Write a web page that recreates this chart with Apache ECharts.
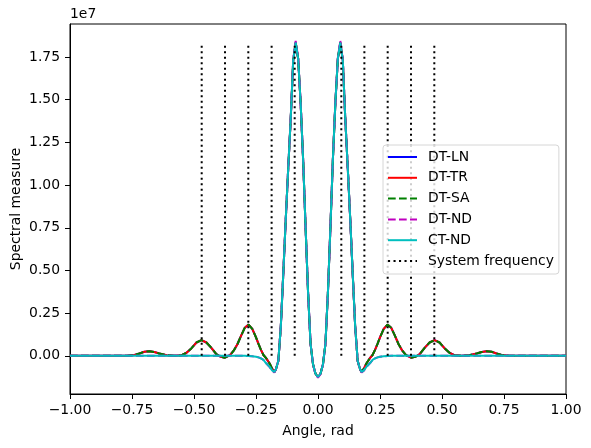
<!DOCTYPE html>
<html>
<head>
<meta charset="utf-8">
<script src="https://cdn.jsdelivr.net/npm/echarts@6/dist/echarts.min.js"></script>
<style>html,body{margin:0;padding:0;background:#fff;}#c{width:591px;height:448px;}</style>
</head>
<body>
<div id="c"></div>
<script>
// Angle grid, rad
const angles = [-1.00, -0.90, -0.80, -0.77, -0.74, -0.72, -0.70, -0.68, -0.66, -0.64, -0.61, -0.58, -0.55, -0.53, -0.51, -0.49, -0.47, -0.45, -0.43, -0.41, -0.395, -0.375, -0.355, -0.34, -0.325, -0.31, -0.295, -0.28, -0.265, -0.25, -0.24, -0.23, -0.22, -0.21, -0.195, -0.185, -0.176, -0.17, -0.16, -0.15, -0.14, -0.13, -0.12, -0.11, -0.10, -0.09, -0.08, -0.07, -0.06, -0.05, -0.04, -0.03, -0.02, -0.01,
  0,
  0.01, 0.02, 0.03, 0.04, 0.05, 0.06, 0.07, 0.08, 0.09, 0.10, 0.11, 0.12, 0.13, 0.14, 0.15, 0.16, 0.17, 0.176, 0.185, 0.195, 0.21, 0.22, 0.23, 0.24, 0.25, 0.265, 0.28, 0.295, 0.31, 0.325, 0.34, 0.355, 0.375, 0.395, 0.41, 0.43, 0.45, 0.47, 0.49, 0.51, 0.53, 0.55, 0.58, 0.61, 0.64, 0.66, 0.68, 0.70, 0.72, 0.74, 0.77, 0.80, 0.90, 1.00];

// Spectral measure (units of 1e7)
const dtTR = [0, 0, 0, 0.001, 0.005, 0.014, 0.024, 0.027, 0.022, 0.014, 0.004, 0, 0.004, 0.018, 0.045, 0.078, 0.092, 0.078, 0.047, 0.01, -0.004, -0.011, 0.004, 0.03, 0.068, 0.118, 0.165, 0.183, 0.158, 0.108, 0.07, 0.035, 0.005, -0.012, -0.045, -0.075, -0.094, -0.08, -0.03, 0.17, 0.48, 0.80, 1.10, 1.39, 1.73, 1.835, 1.74, 1.48, 1.15, 0.75, 0.37, 0.07, -0.05, -0.105,
  -0.124,
  -0.105, -0.05, 0.07, 0.37, 0.75, 1.15, 1.48, 1.74, 1.835, 1.73, 1.39, 1.10, 0.80, 0.48, 0.17, -0.03, -0.08, -0.094, -0.075, -0.045, -0.012, 0.005, 0.035, 0.07, 0.108, 0.158, 0.183, 0.165, 0.118, 0.068, 0.03, 0.004, -0.011, -0.004, 0.01, 0.047, 0.078, 0.092, 0.078, 0.045, 0.018, 0.004, 0, 0.004, 0.014, 0.022, 0.027, 0.024, 0.014, 0.005, 0.001, 0, 0, 0];
const dtLN = dtTR;   // coincides with DT-TR in the picture
const dtSA = dtTR;   // coincides with DT-TR in the picture

const ctND = [0, 0, 0, 0, 0, 0, 0, 0, 0, 0, 0, 0, 0, 0, 0, 0, 0, 0, 0, 0, 0, 0, 0, 0, 0, 0, 0, -0.001, -0.003, -0.005, -0.009, -0.015, -0.024, -0.042, -0.065, -0.085, -0.094, -0.08, -0.03, 0.17, 0.48, 0.80, 1.10, 1.39, 1.73, 1.835, 1.74, 1.48, 1.15, 0.75, 0.37, 0.07, -0.05, -0.105,
  -0.124,
  -0.105, -0.05, 0.07, 0.37, 0.75, 1.15, 1.48, 1.74, 1.835, 1.73, 1.39, 1.10, 0.80, 0.48, 0.17, -0.03, -0.08, -0.094, -0.085, -0.065, -0.042, -0.024, -0.015, -0.009, -0.005, -0.003, -0.001, 0, 0, 0, 0, 0, 0, 0, 0, 0, 0, 0, 0, 0, 0, 0, 0, 0, 0, 0, 0, 0, 0, 0, 0, 0, 0, 0];

const dtND = [0, 0, 0, 0, 0, 0, 0, 0, 0, 0, 0, 0, 0, 0, 0, 0, 0, 0, 0, 0, 0, 0, 0, 0, 0, 0, 0, -0.001, -0.003, -0.005, -0.009, -0.015, -0.024, -0.042, -0.066, -0.087, -0.097, -0.082, -0.03, 0.17, 0.48, 0.80, 1.10, 1.39, 1.735, 1.845, 1.745, 1.48, 1.15, 0.75, 0.37, 0.07, -0.052, -0.108,
  -0.128,
  -0.108, -0.052, 0.07, 0.37, 0.75, 1.15, 1.48, 1.745, 1.845, 1.735, 1.39, 1.10, 0.80, 0.48, 0.17, -0.03, -0.082, -0.097, -0.087, -0.066, -0.042, -0.024, -0.015, -0.009, -0.005, -0.003, -0.001, 0, 0, 0, 0, 0, 0, 0, 0, 0, 0, 0, 0, 0, 0, 0, 0, 0, 0, 0, 0, 0, 0, 0, 0, 0, 0, 0];

// System frequency markers
const sysFreq = [-0.469, -0.375, -0.281, -0.187, -0.094, 0.094, 0.187, 0.281, 0.375, 0.469];
const sysTop = 1.822;

const yTicks = [0, 0.25, 0.5, 0.75, 1.0, 1.25, 1.5, 1.75];
const seriesNames = ['DT-LN', 'DT-TR', 'DT-SA', 'DT-ND', 'CT-ND', 'System frequency'];

const FONT = 'DejaVu Sans';
const pair = arr => angles.map((a, i) => [a, arr[i]]);
const sysData = [];
sysFreq.forEach(f => { sysData.push([f, 0], [f, sysTop], [f, '-']); });

const fmt = v => (v < 0 ? '\u2212' : '') + Math.abs(v).toFixed(2);

function lineSeries(name, data, color, type) {
  return {
    name, type: 'line', data, symbol: 'none', animation: false,
    lineStyle: { color, width: 2, type: type || 'solid', cap: 'butt' },
    itemStyle: { color },
    connectNulls: false
  };
}

const chart = echarts.init(document.getElementById('c'), null, { renderer: 'canvas' });
chart.setOption({
  animation: false,
  backgroundColor: '#fff',
  grid: { left: 70, right: 25, top: 24, bottom: 54, show: true, borderColor: '#000', borderWidth: 1, backgroundColor: 'transparent', containLabel: false, outerBoundsMode: 'none' },
  xAxis: {
    type: 'value', min: -1, max: 1, interval: 0.25,
    name: 'Angle, rad', nameLocation: 'middle', nameGap: 30, nameMoveOverlap: false,
    nameTextStyle: { fontFamily: FONT, fontSize: 13.9, color: '#000' },
    axisLine: { onZero: false, lineStyle: { color: '#000', width: 1 } },
    axisTick: { inside: false, length: 5, lineStyle: { color: '#000', width: 1 } },
    axisLabel: { margin: 9, fontFamily: FONT, fontSize: 13.9, color: '#000', formatter: fmt, showMinLabel: true, showMaxLabel: true },
    splitLine: { show: false }
  },
  yAxis: {
    type: 'value', min: -0.2235, max: 1.9435,
    name: 'Spectral measure', nameLocation: 'middle', nameGap: 47, nameMoveOverlap: false,
    nameTextStyle: { fontFamily: FONT, fontSize: 13.9, color: '#000' },
    axisLine: { onZero: false, lineStyle: { color: '#000', width: 1 } },
    axisTick: { inside: false, length: 5, customValues: yTicks, lineStyle: { color: '#000', width: 1 } },
    axisLabel: { margin: 10, fontFamily: FONT, fontSize: 13.9, color: '#000', customValues: yTicks, formatter: v => v.toFixed(2) },
    splitLine: { show: false }
  },
  legend: {
    orient: 'vertical', left: 383, top: 145,
    data: seriesNames,
    itemWidth: 29, itemHeight: 14, itemGap: 6.8,
    padding: [5, 5, 6, 4],
    backgroundColor: 'rgba(255,255,255,0.8)', borderColor: '#d6d6d6', borderWidth: 1, borderRadius: 3,
    itemStyle: { color: 'rgba(0,0,0,0)', borderColor: 'rgba(0,0,0,0)', borderWidth: 0, opacity: 0 },
    textStyle: { fontFamily: FONT, fontSize: 13.9, color: '#000', padding: [0, 0, 0, 6] }
  },
  graphic: [{
    type: 'text', left: 70, top: 7,
    style: { text: '1e7', fontFamily: FONT, fontSize: 13.9, fill: '#000' }
  }],
  series: [
    lineSeries('DT-LN', pair(dtLN), '#0000ff'),
    lineSeries('DT-TR', pair(dtTR), '#ff0000'),
    lineSeries('DT-SA', pair(dtSA), '#008000', [7.7, 3.3]),
    lineSeries('DT-ND', pair(dtND), '#bf00bf', [7.7, 3.3]),
    lineSeries('CT-ND', pair(ctND), '#00bfbf'),
    lineSeries('System frequency', sysData, '#000000', [2.1, 3.4])
  ]
});
</script>
</body>
</html>
